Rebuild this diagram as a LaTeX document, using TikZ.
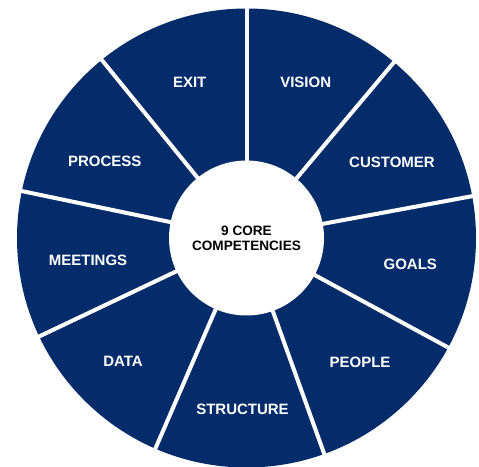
\documentclass[tikz,border=0pt]{standalone}
\usepackage{fontspec}
\setmainfont{Liberation Sans}
\definecolor{navy}{RGB}{5,44,106}
\begin{document}
\begin{tikzpicture}[x=1pt,y=1pt,
  seglabel/.style={text=white,inner sep=0pt,font=\fontsize{15}{18}\selectfont\bfseries},
  hub/.style={circle,fill=white,minimum size=155pt,inner sep=0pt,align=center,
    font=\fontsize{13.6}{15}\selectfont\bfseries},
  divider/.style={draw=white,line width=4pt}]
\useasboundingbox (0,0) rectangle (479,466);
\coordinate (c) at (246.5,228);
\fill[navy] (c) circle (229.5);
\foreach \a in {90,50,10.5,-28.5,-70.2,-113.4,-154.6,168.2,129.1}
  \draw[divider] (c) -- ++(\a:233);
\node[hub] (hub) at (c) {9 CORE\\COMPETENCIES};
\node[seglabel] (exit) at (189.7,384) {EXIT};
\node[seglabel] (vision) at (305.7,384) {VISION};
\node[seglabel] (customer) at (392,303.3) {CUSTOMER};
\node[seglabel] (goals) at (410.3,201.7) {GOALS};
\node[seglabel] (people) at (360,104) {PEOPLE};
\node[seglabel] (structure) at (242.5,57) {STRUCTURE};
\node[seglabel] (data) at (123,105) {DATA};
\node[seglabel] (meetings) at (88,206) {MEETINGS};
\node[seglabel] (process) at (104.7,305) {PROCESS};
\end{tikzpicture}
\end{document}
